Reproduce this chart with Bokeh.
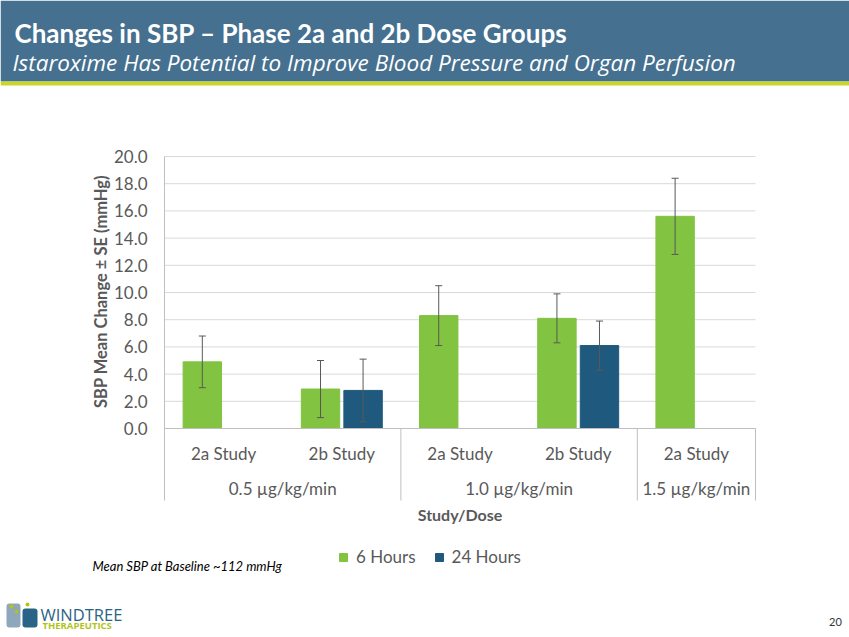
from bokeh.plotting import figure
from bokeh.models import Range1d, Legend, LegendItem, ColumnDataSource
from bokeh.embed import file_html
from bokeh.resources import INLINE
from bokeh.core.properties import value
import math

# ---------------- data ----------------
title_text = "Changes in SBP \u2013 Phase 2a and 2b Dose Groups"
subtitle_text = "Istaroxime Has Potential to Improve Blood Pressure and Organ Perfusion"
y_axis_title = "SBP Mean Change \u00b1 SE (mmHg)"
x_axis_title = "Study/Dose"
footnote_text = "Mean SBP at Baseline ~112 mmHg"
page_number = "20"

doses = ["0.5 \u00b5g/kg/min", "0.5 \u00b5g/kg/min", "1.0 \u00b5g/kg/min", "1.0 \u00b5g/kg/min", "1.5 \u00b5g/kg/min"]
studies = ["2a Study", "2b Study", "2a Study", "2b Study", "2a Study"]
six_hours = [4.9, 2.9, 8.3, 8.1, 15.6]
six_hours_se = [1.9, 2.1, 2.2, 1.8, 2.8]
tf_index = [1, 3]            # categories that have a 24-hour value
tf_hours = [2.8, 6.1]
tf_hours_se = [2.3, 1.8]
series_names = ["6 Hours", "24 Hours"]
y_ticks = [0, 2, 4, 6, 8, 10, 12, 14, 16, 18, 20]
y_tick_labels = ["0.0", "2.0", "4.0", "6.0", "8.0", "10.0", "12.0", "14.0", "16.0", "18.0", "20.0"]

# ---------------- style / layout ----------------
GREEN = "#82C341"
BLUE = "#1F5A7E"
BANNER = "#45708F"
LIME = "#C9D52A"
GRID = "#D9D9D9"
AXIS = "#BFBFBF"
TXT = "#595959"
ERR = "#595959"
FONT = "Lato"

W, H = 849, 637
X0 = 164.0          # px of left edge of first category
CAT_W = 118.2       # px per category
Y0 = 428.0          # px of value 0
PPU = 13.6          # px per mmHg


def fx(px):
    return (px - X0) / CAT_W


def fy(py):
    return (Y0 - py) / PPU


p = figure(width=W, height=H, x_range=Range1d(fx(0), fx(W)), y_range=Range1d(fy(H), fy(0)),
           x_axis_location=None, y_axis_location=None, min_border=0,
           toolbar_location=None, output_backend="svg",
           background_fill_color="white", border_fill_color="white", outline_line_color=None)
p.grid.visible = False

# ---------------- banner ----------------
p.quad(left=[fx(0)], right=[fx(W)], top=[fy(0)], bottom=[fy(81)], fill_color=BANNER, line_color=None)
p.quad(left=[fx(0)], right=[fx(W)], top=[fy(81)], bottom=[fy(85)], fill_color=LIME, line_color=None)
p.text(x=[fx(14)], y=[fy(32)], text=[title_text], text_font=value(FONT), text_font_style="bold",
       text_font_size="26px", text_color="white", text_baseline="alphabetic")
p.text(x=[fx(12)], y=[fy(62)], text=[subtitle_text], text_font=value("Open Sans"),
       text_font_style="italic", text_font_size="22.5px", text_color="white",
       text_baseline="alphabetic")

# ---------------- chart ----------------
n = len(studies)
centers = [i + 0.5 for i in range(n)]
ymin_px = 500

# gridlines and y tick labels
p.segment(x0=0, x1=n, y0=y_ticks[1:], y1=y_ticks[1:], line_color=GRID, line_width=1)
p.text(x=fx(147), y=y_ticks, text=y_tick_labels, text_font=value(FONT), text_font_size="17px",
       text_color=TXT, text_align="right", text_baseline="middle")

OFF = 0.18
BW = 0.325
src6 = ColumnDataSource(dict(
    x=[c - OFF for c in centers], top=six_hours,
    lower=[v - s for v, s in zip(six_hours, six_hours_se)],
    upper=[v + s for v, s in zip(six_hours, six_hours_se)]))
src24 = ColumnDataSource(dict(
    x=[centers[i] + OFF for i in tf_index], top=tf_hours,
    lower=[v - s for v, s in zip(tf_hours, tf_hours_se)],
    upper=[v + s for v, s in zip(tf_hours, tf_hours_se)]))

r6 = p.vbar(x="x", top="top", width=BW, source=src6, fill_color=GREEN, line_color=GREEN)
r24 = p.vbar(x="x", top="top", width=BW, source=src24, fill_color=BLUE, line_color=BLUE)
for src in (src6, src24):
    p.segment(x0="x", x1="x", y0="lower", y1="upper", source=src, line_color=ERR, line_width=1)
    p.scatter(x="x", y="upper", source=src, marker="dash", size=7, line_color=ERR, line_width=1)
    p.scatter(x="x", y="lower", source=src, marker="dash", size=7, line_color=ERR, line_width=1)

# axes lines
p.segment(x0=[0], x1=[0], y0=[0], y1=[20], line_color=AXIS, line_width=1)
p.segment(x0=[0], x1=[n], y0=[0], y1=[0], line_color=AXIS, line_width=1)

# group separators (where the dose changes)
bounds = [i for i in range(n) if i == 0 or doses[i] != doses[i - 1]] + [n]
p.segment(x0=bounds, x1=bounds, y0=0, y1=fy(ymin_px), line_color=AXIS, line_width=1)

# category labels
p.text(x=centers, y=fy(453), text=studies, text_font=value(FONT), text_font_size="17px",
       text_color=TXT, text_align="center", text_baseline="middle")
groups = []
for i, d in enumerate(doses):
    if not groups or groups[-1][0] != d:
        groups.append([d, []])
    groups[-1][1].append(centers[i])
p.text(x=[sum(g[1]) / len(g[1]) for g in groups], y=fy(488), text=[g[0] for g in groups],
       text_font=value(FONT), text_font_size="17px", text_color=TXT,
       text_align="center", text_baseline="middle")

# axis titles
p.text(x=[fx(100)], y=[fy(291)], text=[y_axis_title], angle=math.pi / 2, text_font=value(FONT),
       text_font_style="bold", text_font_size="16.5px", text_color=TXT,
       text_align="center", text_baseline="middle")
p.text(x=[n / 2], y=[fy(514)], text=[x_axis_title], text_font=value(FONT),
       text_font_style="bold", text_font_size="16px", text_color=TXT,
       text_align="center", text_baseline="middle")

# footnote and page number
p.text(x=[fx(92)], y=[fy(565)], text=[footnote_text], text_font=value(FONT),
       text_font_style="italic", text_font_size="13px", text_color="#000000",
       text_align="left", text_baseline="middle")
p.text(x=[fx(835)], y=[fy(621)], text=[page_number], text_font=value(FONT),
       text_font_size="11px", text_color="#333333", text_align="center", text_baseline="middle")

# logo
p.quad(left=[fx(6)], right=[fx(20)], top=[fy(603)], bottom=[fy(627)], fill_color="#8FA7BA",
       line_color=None, border_radius=3)
p.quad(left=[fx(22)], right=[fx(37)], top=[fy(608)], bottom=[fy(627)], fill_color="#2A6386",
       line_color=None, border_radius=3)
p.scatter(x=[fx(11), fx(16), fx(27)], y=[fy(606), fy(611), fy(604)], size=4,
          fill_color="#B2C419", line_color=None)
p.text(x=[fx(40)], y=[fy(614)], text=["WINDTREE"], text_font=value("Open Sans"),
       text_font_size="16.5px", text_color="#2A6386", text_baseline="alphabetic")
p.text(x=[fx(42)], y=[fy(625)], text=["THERAPEUTICS"], text_font=value("Open Sans"),
       text_font_style="bold", text_font_size="9.5px", text_color="#B2C419", text_baseline="alphabetic")

# legend
legend = Legend(items=[LegendItem(label=series_names[0], renderers=[r6]),
                       LegendItem(label=series_names[1], renderers=[r24])],
                location=(338, H - 567), orientation="horizontal",
                glyph_width=10, glyph_height=10, label_standoff=8, spacing=18,
                padding=0, margin=0, border_line_color=None, background_fill_alpha=0,
                label_text_font=FONT, label_text_font_size="17px", label_text_color=TXT)
p.add_layout(legend)

open("out.html", "w").write(file_html(p, INLINE))
